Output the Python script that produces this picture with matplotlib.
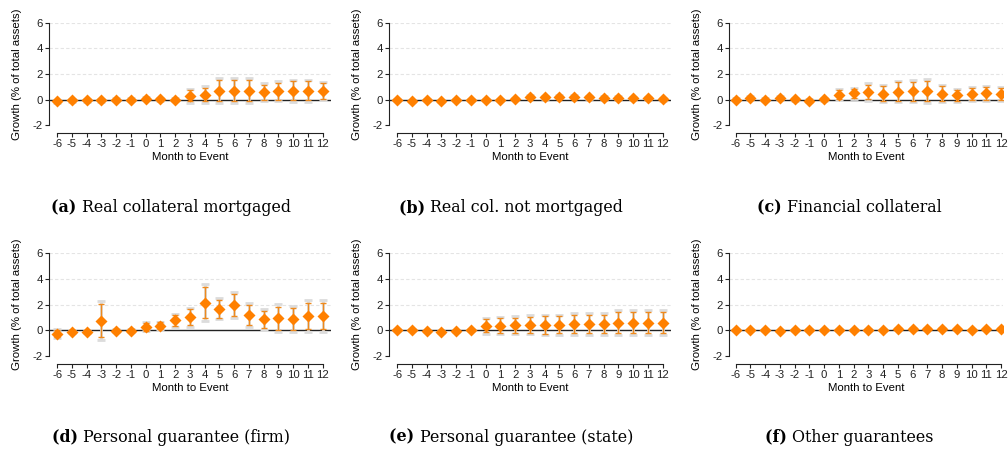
import numpy as np
import matplotlib
matplotlib.use("Agg")
import matplotlib.pyplot as plt

plt.rcParams['font.family'] = ['Liberation Sans', 'DejaVu Sans']

months = list(range(-6, 13))

# point estimates (growth, % of total assets) and standard errors per panel
coef_a = [-0.13, -0.05, -0.05, -0.05, 0.0, 0.0, 0.08, 0.03, 0.0, 0.3, 0.4, 0.7, 0.7, 0.7, 0.58, 0.65, 0.7, 0.7, 0.68]
se_a = [0.05, 0.05, 0.05, 0.05, 0.05, 0.05, 0.06, 0.06, 0.06, 0.27, 0.33, 0.49, 0.49, 0.49, 0.36, 0.4, 0.44, 0.44, 0.36]

coef_b = [-0.06, -0.08, -0.05, -0.08, -0.05, -0.05, 0.0, 0.0, 0.03, 0.21, 0.18, 0.21, 0.21, 0.18, 0.16, 0.13, 0.1, 0.1, 0.05]
se_b = [0.04, 0.04, 0.04, 0.04, 0.04, 0.04, 0.04, 0.04, 0.04, 0.06, 0.06, 0.06, 0.06, 0.06, 0.06, 0.06, 0.06, 0.06, 0.06]

coef_c = [0.0, 0.13, 0.0, 0.13, 0.03, -0.08, 0.05, 0.4, 0.5, 0.6, 0.47, 0.63, 0.66, 0.66, 0.47, 0.34, 0.45, 0.5, 0.45]
se_c = [0.06, 0.06, 0.06, 0.06, 0.06, 0.06, 0.06, 0.21, 0.22, 0.35, 0.35, 0.43, 0.45, 0.47, 0.35, 0.27, 0.29, 0.3, 0.29]

coef_d = [-0.26, -0.1, -0.13, 0.75, -0.05, -0.03, 0.29, 0.36, 0.78, 1.01, 2.16, 1.69, 1.95, 1.17, 0.86, 0.94, 0.91, 1.12, 1.12]
se_d = [0.18, 0.06, 0.06, 0.78, 0.06, 0.06, 0.19, 0.16, 0.25, 0.38, 0.72, 0.43, 0.52, 0.47, 0.41, 0.55, 0.52, 0.63, 0.63]

coef_e = [0.0, 0.0, -0.05, -0.13, -0.05, 0.0, 0.36, 0.36, 0.39, 0.44, 0.42, 0.44, 0.49, 0.49, 0.49, 0.6, 0.6, 0.6, 0.6]
se_e = [0.04, 0.04, 0.04, 0.04, 0.04, 0.04, 0.32, 0.35, 0.36, 0.38, 0.41, 0.4, 0.43, 0.43, 0.43, 0.49, 0.49, 0.49, 0.5]

coef_f = [0.0, 0.03, 0.03, -0.03, 0.0, 0.0, 0.0, 0.02, 0.03, 0.02, 0.03, 0.08, 0.13, 0.12, 0.1, 0.07, 0.05, 0.07, 0.1]
se_f = [0.03] * 19

panels = [
    ("(a)", "Real collateral mortgaged", coef_a, se_a),
    ("(b)", "Real col. not mortgaged", coef_b, se_b),
    ("(c)", "Financial collateral", coef_c, se_c),
    ("(d)", "Personal guarantee (firm)", coef_d, se_d),
    ("(e)", "Personal guarantee (state)", coef_e, se_e),
    ("(f)", "Other guarantees", coef_f, se_f),
]

W, H = 1008, 450
fig = plt.figure(figsize=(W / 100, H / 100), dpi=100)

# pixel layout of each column: left spine, x-limits (third column is clipped at the right)
col_x = [49, 389, 729]
col_xlim = [(-6.55, 12.55), (-6.55, 12.55), (-6.45, 12.1)]
px_per_month = 14.75
row_top = [22.7, 253.3]       # pixel y of y=6
ax_h = 102.6
cap_x = [171, 511, 849]
cap_y = [208, 437]

orange = '#ff8000'
err_orange = '#ee8a1e'
grey = '#dcdcdc'
tick_fs = 8.2

renderer = fig.canvas.get_renderer()

for i, (lab, title, coef, se) in enumerate(panels):
    r, c = divmod(i, 3)
    x_lo, x_hi = col_xlim[c]
    ax_w = (x_hi - x_lo) * px_per_month
    left = col_x[c] / W
    bottom = (H - row_top[r] - ax_h) / H
    ax = fig.add_axes([left, bottom, ax_w / W, ax_h / H])

    coef = np.array(coef)
    se = np.array(se)

    for yv in (2, 4, 6):
        ax.axhline(yv, color='#e4e4e4', lw=0.8, dashes=(3, 2), zorder=0)
    ax.axhline(0, color='#222222', lw=1.0, zorder=1)

    # 95% CI in grey behind, 90% CI in orange
    ax.errorbar(months, coef, yerr=1.96 * se, fmt='none', ecolor=grey,
                elinewidth=2.0, capsize=2.6, capthick=2.0, zorder=2)
    ax.errorbar(months, coef, yerr=1.645 * se, fmt='none', ecolor=err_orange,
                elinewidth=1.0, capsize=2.4, capthick=1.0, zorder=3)
    ax.plot(months, coef, 'D', color=orange, ms=6.2, mec='none', zorder=4)

    ax.set_xlim(x_lo, x_hi)
    ax.set_ylim(-2, 6)
    ax.set_xticks(months)
    ax.set_yticks([-2, 0, 2, 4, 6])
    ax.set_yticklabels(['-2', '0', '2', '4', '6'])
    ax.set_xticklabels([str(m) for m in months])

    for s in ('top', 'right'):
        ax.spines[s].set_visible(False)
    ax.spines['left'].set_bounds(-2, 6)
    ax.spines['bottom'].set_bounds(-6, 12)
    ax.spines['bottom'].set_position(('outward', 5.6))
    for s in ('left', 'bottom'):
        ax.spines[s].set_linewidth(0.8)
        ax.spines[s].set_color('#222222')

    ax.tick_params(axis='both', direction='out', length=3, width=0.8,
                   labelsize=tick_fs, pad=1.5, colors='#222222')
    ax.set_xlabel('Month to Event', fontsize=tick_fs, labelpad=2)
    ax.set_ylabel('Growth (% of total assets)', fontsize=tick_fs)
    ax.yaxis.set_label_coords(-32 / ax_w, 0.5)
    ax.yaxis.label.set_va('center')

    # caption with bold label
    t1 = fig.text(0, 0, lab + ' ', fontsize=11.4, fontweight='bold',
                  family='DejaVu Serif')
    t2 = fig.text(0, 0, title, fontsize=11.4, family='DejaVu Serif')
    w1 = t1.get_window_extent(renderer).width
    w2 = t2.get_window_extent(renderer).width
    x0 = cap_x[c] - (w1 + w2) / 2
    yc = 1 - cap_y[r] / H
    t1.set_position((x0 / W, yc))
    t1.set_va('center')
    t2.set_position(((x0 + w1) / W, yc))
    t2.set_va('center')

fig.savefig('out.png', dpi=100)
